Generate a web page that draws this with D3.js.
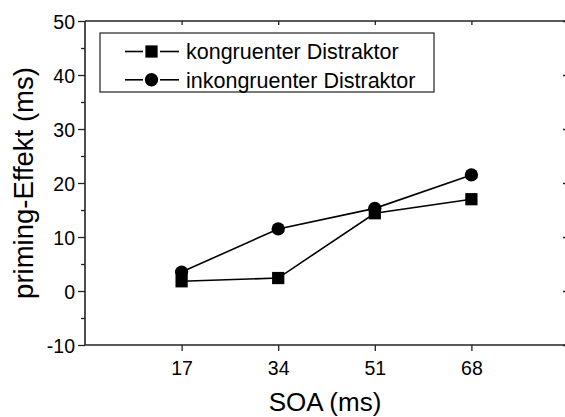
<!DOCTYPE html>
<html>
<head>
<meta charset="utf-8">
<script src="https://cdn.jsdelivr.net/npm/d3@7"></script>
<style>
  html, body { margin: 0; padding: 0; background: #fff; }
  svg { display: block; }
  svg text { font-family: "Liberation Sans", Arial, sans-serif; fill: #000; }
</style>
</head>
<body>
<script>
const soa = [17, 34, 51, 68];
const kongruent = [1.8, 2.4, 14.4, 17.0];
const inkongruent = [3.5, 11.5, 15.3, 21.5];
const seriesNames = ["kongruenter Distraktor", "inkongruenter Distraktor"];
const yTicks = [-10, 0, 10, 20, 30, 40, 50];
const yMinorTicks = [-5, 5, 15, 25, 35, 45];
const xTitle = "SOA (ms)";
const yTitle = "priming-Effekt (ms)";

const W = 565, H = 417;
const mLeft = 85, mRight = 568, mTop = 21, mBottom = 345;
const tickFont = 19.5;

const svg = d3.select("body").append("svg").attr("width", W).attr("height", H);

const x = d3.scaleLinear().domain([0, 85]).range([mLeft, mRight]);
const y = d3.scaleLinear().domain([-10, 50]).range([mBottom, mTop]);
const fmt = d => String(d);

// Axes
const gB = svg.append("g").attr("transform", `translate(0,${mBottom})`)
  .call(d3.axisBottom(x).tickValues(soa).tickSize(6).tickPadding(10).tickFormat(fmt));
const gL = svg.append("g").attr("transform", `translate(${mLeft},0)`)
  .call(d3.axisLeft(y).tickValues(yTicks).tickSize(7).tickPadding(3).tickFormat(fmt));
const gLm = svg.append("g").attr("transform", `translate(${mLeft},0)`)
  .call(d3.axisLeft(y).tickValues(yMinorTicks).tickSize(4).tickFormat(""));
const gT = svg.append("g").attr("transform", `translate(0,${mTop})`)
  .call(d3.axisBottom(x).tickValues(soa).tickSize(4).tickFormat(""));
const gR = svg.append("g").attr("transform", `translate(${mRight},0)`)
  .call(d3.axisRight(y).tickValues(yTicks).tickSize(-5).tickFormat(""));

[gB, gL, gLm, gT, gR].forEach(g => {
  g.attr("font-size", tickFont).attr("font-family", "Liberation Sans, Arial, sans-serif");
  g.select(".domain").attr("stroke", "#222").attr("stroke-width", 1.6);
  g.selectAll(".tick line").attr("stroke", "#222").attr("stroke-width", 1.3);
  g.selectAll(".tick text").attr("font-size", tickFont).attr("fill", "#000");
});
gLm.select(".domain").remove();
gT.select(".domain").attr("d", `M${mLeft},0H${mRight}`);
gB.select(".domain").attr("d", `M${mLeft},0H${mRight}`);
gL.select(".domain").attr("d", `M0,${mTop}V${mBottom}`);
gR.select(".domain").attr("d", `M0,${mTop}V${mBottom}`);
gL.selectAll(".tick text").attr("dy", "0.36em");

// Titles
svg.append("text").attr("x", (mLeft + 565) / 2).attr("y", 411)
  .attr("text-anchor", "middle").style("font-size", "26px").text(xTitle);
svg.append("text").attr("transform", `translate(33,${(mTop + mBottom) / 2}) rotate(-90)`)
  .attr("text-anchor", "middle").style("font-size", "27.5px").text(yTitle);

// Data lines
const line = d3.line().x((d, i) => x(soa[i])).y(d => y(d));
const series = [
  { name: seriesNames[0], values: kongruent, shape: d3.symbolSquare },
  { name: seriesNames[1], values: inkongruent, shape: d3.symbolCircle }
];
series.forEach(s => {
  svg.append("path").datum(s.values).attr("d", line)
    .attr("fill", "none").attr("stroke", "#000").attr("stroke-width", 1.6);
});
series.forEach(s => {
  const sym = d3.symbol().type(s.shape).size(s.shape === d3.symbolSquare ? 150 : 140);
  svg.append("g").selectAll("path").data(s.values).join("path")
    .attr("transform", (d, i) => `translate(${x(soa[i])},${y(d)})`)
    .attr("d", sym()).attr("fill", "#000");
});

// Legend
const lg = svg.append("g");
lg.append("rect").attr("x", 100).attr("y", 33).attr("width", 334).attr("height", 59)
  .attr("fill", "#fff").attr("stroke", "#222").attr("stroke-width", 1.2);
series.forEach((s, i) => {
  const cy = 51.5 + i * 28.3;
  lg.append("line").attr("x1", 125).attr("x2", 143).attr("y1", cy).attr("y2", cy)
    .attr("stroke", "#000").attr("stroke-width", 1.6);
  lg.append("line").attr("x1", 160).attr("x2", 179).attr("y1", cy).attr("y2", cy)
    .attr("stroke", "#000").attr("stroke-width", 1.6);
  const sym = d3.symbol().type(s.shape).size(s.shape === d3.symbolSquare ? 150 : 140);
  lg.append("path").attr("transform", `translate(151.5,${cy})`).attr("d", sym()).attr("fill", "#000");
  lg.append("text").attr("x", 186).attr("y", cy).attr("dy", "0.36em")
    .style("font-size", "21.5px").text(s.name);
});
</script>
</body>
</html>
